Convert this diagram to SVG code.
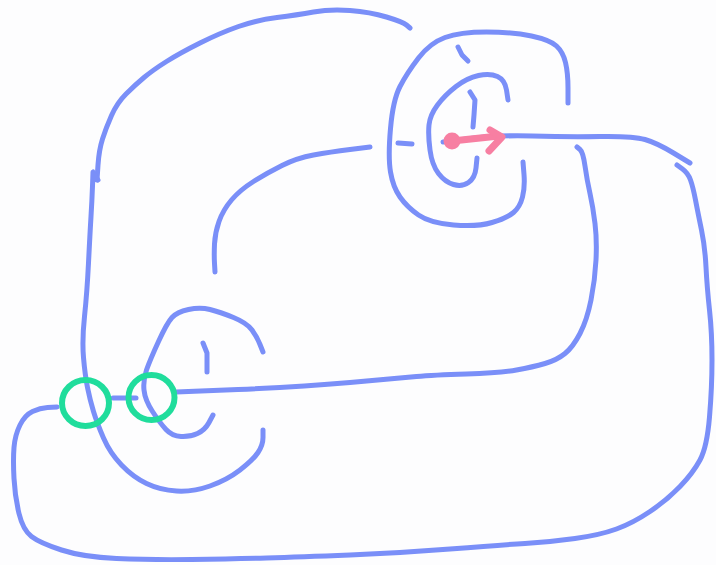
<svg xmlns="http://www.w3.org/2000/svg" width="716" height="565" viewBox="0 0 716 565">
<style>
.k{fill:none;stroke:#7a8ff8;stroke-width:5;stroke-linecap:round;stroke-linejoin:round}
.g{fill:none;stroke:#20dd9c;stroke-width:6}
.p{fill:none;stroke:#f77fa2;stroke-width:7;stroke-linecap:round;stroke-linejoin:round}
</style>
<rect width="716" height="565" fill="#fdfdfe"/>
<g id="knot">
<path class="k" d="M97,180 L98,165 Q99,150 102.5,139 Q106,128 111.5,115.5 Q117,103 126,94 Q135,85 144,77.5 Q153,70 166.5,61.5 Q180,53 200,43 Q220,33 238.5,26.5 Q257,20 277,17.5 Q297,15 313.5,12 Q330,9 350,10.5 Q370,12 386.5,17 Q403,22 406.5,25 L410,28"/>
<path class="k" d="M98,180 L93,172 L92.5,186 Q92,200 91,216.5 Q90,233 88.5,263 Q87,293 84.5,316.5 Q82,340 83.5,357.5 Q85,375 87.5,387.5 Q90,400 93.5,411.5 Q97,423 103.5,438 Q110,453 121.5,465 Q133,477 146.5,483.5 Q160,490 176.5,491 Q193,492 210,486 Q227,480 240,470 Q253,460 258,452.5 Q263,445 263,437.5 L263,430"/>
<path class="k" d="M370,147 L350,149.5 Q330,152 313.5,155 Q297,158 282,165.5 Q267,173 253.5,181.5 Q240,190 231.5,200 Q223,210 219,221.5 Q215,233 214.5,244 Q214,255 214.5,263.5 L215,272"/>
<path class="k" d="M57,407 L47.5,407.5 Q40,408 32.5,411.5 Q25,415 20,425 Q15,435 14,447.5 Q13,460 14,478.5 Q15,497 19,513.5 Q23,530 31.5,536.5 Q40,543 61.5,550 Q83,557 116.5,558.5 Q150,560 191.5,559.5 Q233,559 266.5,558 Q300,557 350,555 Q400,553 450,549 Q500,545 525,543.5 Q550,542 575,538.5 Q600,535 616.5,529 Q633,523 650,511.5 Q667,500 680,486.5 Q693,473 700,460 Q707,447 709.5,417 Q712,387 712,360 Q712,333 709.5,310 Q707,287 706,267 Q705,247 701.5,230 Q698,213 695.5,200 Q693,187 690.5,180 Q688,173 682.5,169 L677,165"/>
<path class="k" d="M443,142 L470.5,138.5 Q498,135 532.5,136 Q567,137 600,136.5 Q633,136 645,139.5 Q657,143 673.5,153 L690,163"/>
<path class="k" d="M577,147 L580,149.5 Q583,152 585,166 Q587,180 590,193.5 Q593,207 595,223.5 Q597,240 596,260 Q595,280 591,300 Q587,320 580,333.5 Q573,347 565,353.5 Q557,360 545,363.5 Q533,367 516.5,370 Q500,373 466.5,374 Q433,375 416.5,376.5 Q400,378 350,382.5 Q300,387 238,389.5 L176,392"/>
<path class="k" d="M568,103 L568,88 Q568,73 565.5,62.5 Q563,52 556.5,46 Q550,40 531.5,36 Q513,32 486.5,32 Q460,32 445,37.5 Q430,43 418.5,58 Q407,73 400,86.5 Q393,100 390.5,128.5 Q388,157 390.5,172 Q393,187 400,197 Q407,207 418.5,215 Q430,223 453.5,225 Q477,227 492,222.5 Q507,218 513.5,212.5 Q520,207 522.5,197 Q525,187 524,174.5 L523,162"/>
<path class="k" d="M398,143 L412,144"/>
<path class="k" d="M458,47 L462,55 L468,61"/>
<path class="k" d="M508,100 L506.5,90 Q505,80 497.5,76.5 Q490,73 478.5,75.5 Q467,78 456,86.5 Q445,95 437.5,105 Q430,115 429,125 Q428,135 430,150 Q432,165 438.5,173.5 Q445,182 453.5,184.5 Q462,187 468.5,182.5 Q475,178 476,168 L477,158"/>
<path class="k" d="M470,92 L475,100 L474,115 L473,127"/>
<path class="k" d="M263,352 L260,344.5 Q257,337 252,330 Q247,323 233.5,317.5 Q220,312 210,309.5 Q200,307 188.5,309.5 Q177,312 172,317.5 Q167,323 158.5,341.5 Q150,360 146.5,370 Q143,380 144,390 Q145,400 152.5,411.5 Q160,423 166,429.5 Q172,436 181,436.5 Q190,437 197.5,433.5 Q205,430 209,422.5 L213,415"/>
<path class="k" d="M203,343 L207,353 L207,372"/>
<path class="k" d="M113,398 L136,398"/>
</g>
<g id="markers">
<ellipse class="g" cx="85.5" cy="403" rx="23.5" ry="23"/>
<ellipse class="g" cx="151.5" cy="397.5" rx="23" ry="22.5"/>
</g>
<g id="arrow">
<circle cx="452" cy="141" r="8.5" fill="#f77fa2"/>
<path class="p" d="M452,141 L499,136"/>
<path class="p" d="M490,130 L502,137 L489,151"/>
</g>
</svg>
